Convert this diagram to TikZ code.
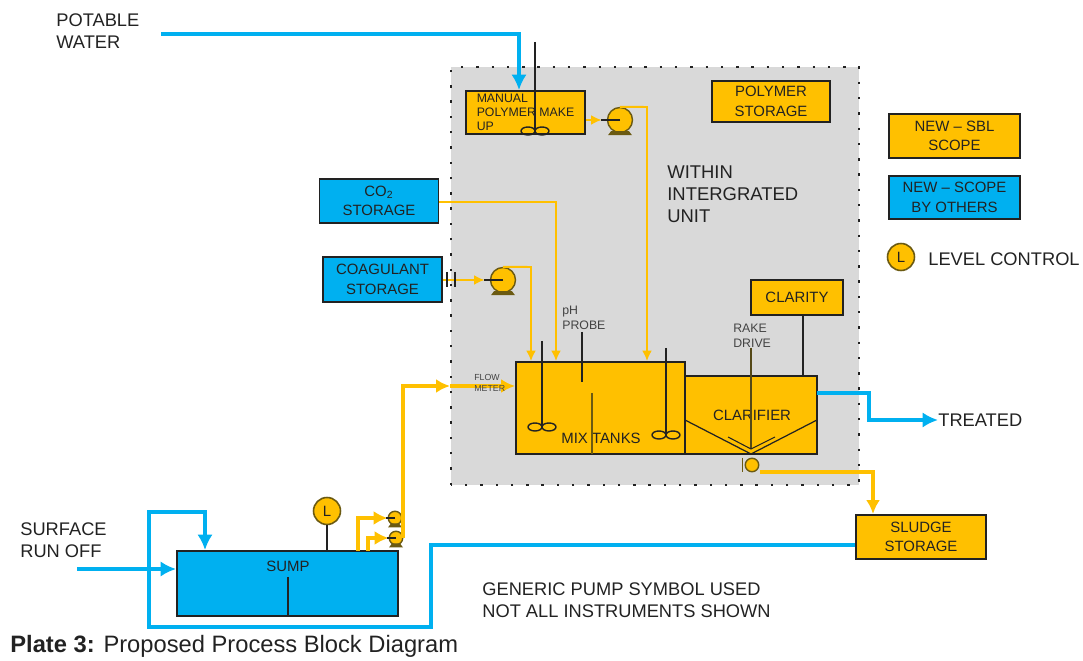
\documentclass[tikz,border=0pt]{standalone}
\usepackage{fontspec}
\setmainfont{Liberation Sans}
\usepackage{xcolor}
\usetikzlibrary{positioning,arrows.meta,calc}
\definecolor{sbl}{HTML}{FFC000}
\definecolor{others}{HTML}{00B0F0}
\definecolor{unit}{HTML}{D9D9D9}
\definecolor{ink}{HTML}{222222}
\definecolor{footing}{HTML}{6B5A12}
\tikzset{
  stylebox/.style={draw=ink, line width=1.1pt, inner sep=0pt, align=center, text=ink,
    font=\fontsize{8.5}{11.2}\selectfont},
  sblbox/.style={stylebox, fill=sbl},
  otherbox/.style={stylebox, fill=others},
  label/.style={inner sep=0pt, align=left, anchor=west, text=ink,
    font=\fontsize{10.4}{12.6}\selectfont},
  tiny label/.style={inner sep=0pt, align=left, anchor=west, text=ink!85,
    font=\fontsize{7}{8.6}\selectfont},
  bluepipe/.style={others, line width=2pt, -{Latex[length=3.1mm,width=3.1mm]}},
  thinpipe/.style={sbl, line width=1.1pt, -{Latex[length=2.1mm,width=2mm]}},
  thickpipe/.style={sbl, line width=2pt, -{Latex[length=2.8mm,width=2.8mm]}},
  pump/.style={circle, draw=footing, fill=sbl, line width=0.8pt, minimum size=0.5cm, inner sep=0pt},
  smallpump/.style={pump, minimum size=0.27cm},
  gauge/.style={circle, draw=footing, fill=sbl, line width=0.9pt, minimum size=0.54cm, inner sep=0pt,
    text=ink, font=\fontsize{8.5}{9}\selectfont},
  stem/.style={ink, line width=0.9pt},
  blade/.style={ink, line width=0.8pt},
}
\begin{document}
\begin{tikzpicture}[x=0.02cm, y=-0.02cm, >=Latex]
  \useasboundingbox (0,0) rectangle (1083,661);
  \fill[unit] (451,67) rectangle (859,485);
  \draw[ink, line width=1.2pt, dash pattern=on 1.4pt off 7.3pt] (451,485) -- (451,67) -- (859,67) -- (859,485) -- cycle;

  \node[sblbox, minimum width=2.38cm, minimum height=0.86cm, font=\fontsize{7}{8}\selectfont, align=left] (manual) at (525.5,112.5) {MANUAL\\POLYMER MAKE\\UP};
  \node[sblbox, minimum width=2.36cm, minimum height=0.82cm] (polymer) at (771,101.5) {POLYMER\\STORAGE};
  \node[sblbox, minimum width=2.62cm, minimum height=0.88cm] (newsbl) at (954.5,136) {NEW -- SBL\\SCOPE};
  \node[otherbox, minimum width=2.62cm, minimum height=0.86cm] (newothers) at (954.5,197.5) {NEW -- SCOPE\\BY OTHERS};
  \node[otherbox, minimum width=2.38cm, minimum height=0.88cm] (co2) at (379,201) {CO\textsubscript{2}\\STORAGE};
  \node[otherbox, minimum width=2.38cm, minimum height=0.9cm] (coagulant) at (382.5,279.5) {COAGULANT\\STORAGE};
  \node[sblbox, minimum width=1.84cm, minimum height=0.7cm] (clarity) at (797,297.5) {CLARITY};
  \node[sblbox, minimum width=3.38cm, minimum height=1.84cm] (mixtanks) at (600.5,408) {};
  \node[sblbox, minimum width=2.64cm, minimum height=1.56cm] (clarifier) at (751,415) {};
  \node[otherbox, minimum width=4.42cm, minimum height=1.3cm] (sump) at (287.5,583.5) {};
  \node[sblbox, minimum width=2.6cm, minimum height=0.88cm] (sludge) at (921,537) {SLUDGE\\STORAGE};

  \node[stylebox, draw=none] (mixlabel) at (601,438) {MIX TANKS};
  \node[stylebox, draw=none] (clarifierlabel) at (752,415) {CLARIFIER};
  \node[stylebox, draw=none] (sumplabel) at (288,566) {SUMP};

  \node[label] (potable) at (56,31) {POTABLE\\WATER};
  \node[label] (surface) at (20,540) {SURFACE\\RUN OFF};
  \node[label, font=\fontsize{10.5}{12.5}\selectfont] (within) at (667,194) {WITHIN\\INTERGRATED\\UNIT};
  \node[label] (treated) at (938,420) {TREATED};
  \node[label] (level) at (928,259) {LEVEL CONTROL};
  \node[label] (generic) at (482,600.5) {GENERIC PUMP SYMBOL USED\\NOT ALL INSTRUMENTS SHOWN};
  \node[label, font=\fontsize{13.5}{15}\selectfont] (plate) at (10,646) {\textbf{Plate 3:} Proposed Process Block Diagram};
  \node[tiny label] (phprobe) at (562,317.5) {pH\\PROBE};
  \node[tiny label] (rake) at (733,336) {RAKE\\DRIVE};

  \node[pump] (polypump) at (620,120) {};
  \node[pump] (coagpump) at (503,280) {};
  \node[smallpump] (sumpa) at (395,518) {};
  \node[smallpump] (sumpb) at (396,538) {};
  \node[smallpump] (sludgepump) at (752,465) {};
  \node[gauge] (sumplevel) at (327,511) {L};
  \node[gauge] (legendlevel) at (901,257) {L};

  \foreach \pumpname/\wide in {polypump/12, coagpump/12, sumpa/7, sumpb/7} {
    \fill[footing] ($(\pumpname.south)+(-\wide+3,-2)$) -- ($(\pumpname.south)+(\wide-3,-2)$) -- ($(\pumpname.south)+(\wide,2)$) -- ($(\pumpname.south)+(-\wide,2)$) -- cycle;
  }
  \draw[footing, line width=1pt] ($(sludgepump.west)+(-2,-7)$) -- ($(sludgepump.west)+(-2,7)$);

  \coordinate (potableend) at (161,34);
  \coordinate (potablebend) at (519,34);
  \coordinate (runoffend) at (77,569);
  \coordinate (returnbend) at (431,545);
  \coordinate (returnlow) at (431,627);
  \coordinate (returnleft) at (149,627);
  \coordinate (returntop) at (149,512);
  \coordinate (returndrop) at (205,512);
  \coordinate (clarifierout) at (817,393);
  \coordinate (treatedbend) at (869,393);
  \coordinate (treatedlow) at (869,420);
  \coordinate (co2drop) at (556,202);
  \coordinate (polydrop) at (647,107);
  \coordinate (coagdrop) at (531,267);
  \coordinate (flowup) at (403,538);
  \coordinate (flowbend) at (403,386);
  \coordinate (flowmid) at (450,386);
  \coordinate (sumpouta) at (358,551);
  \coordinate (sumpoutb) at (368,551);
  \coordinate (sludgeout) at (760,472);
  \coordinate (sludgebend) at (873,472);
  \coordinate (sumpbaffle) at (288,577);
  \coordinate (claritytap) at (803,340);

  \draw[bluepipe] (potableend) -- (potablebend) -- (potablebend |- manual.north);
  \draw[bluepipe] (runoffend) -- (runoffend -| sump.west);
  \draw[bluepipe] (returnbend -| sludge.west) -- (returnbend) -- (returnlow) -- (returnleft) -- (returntop) -- (returndrop) -- (returndrop |- sump.north);
  \draw[bluepipe] (clarifierout) -- (treatedbend) -- (treatedlow) -- (treated.west);

  \draw[thinpipe, shorten >=3pt] (manual.east |- polypump.west) -- (polypump.west);
  \draw[thinpipe] (polypump.north) -- (polydrop) -- (polydrop |- mixtanks.north);
  \draw[thinpipe] (co2.east |- co2drop) -- (co2drop) -- (co2drop |- mixtanks.north);
  \draw[thinpipe, shorten >=3pt] (coagulant.east |- coagpump.west) -- (coagpump.west);
  \draw[thinpipe] (coagpump.north) -- (coagdrop) -- (coagdrop |- mixtanks.north);
  \draw[thickpipe] (sumpouta) -- (sumpouta |- sumpa.west) -- (sumpa.west);
  \draw[thickpipe] (sumpoutb) -- (sumpoutb |- sumpb.west) -- (sumpb.west);
  \draw[thickpipe] (flowup) -- (flowbend) -- (flowmid);
  \draw[thickpipe] (flowmid) -- (flowmid -| mixtanks.west);
  \draw[thickpipe] (sludgeout) -- (sludgebend) -- (sludgebend |- sludge.north);
  \node[tiny label, font=\fontsize{5}{6.2}\selectfont] (flowmeter) at (474,382.5) {FLOW\\METER};

  \draw[stem, line width=1.1pt] (447,272) -- (447,287);
  \draw[stem, line width=1.1pt] (455,272) -- (455,287);

  \foreach \pumpname/\reach in {polypump/19, coagpump/19, sumpa/9, sumpb/9} {
    \draw[stem, line width=0.6pt] (\pumpname.center) -- ++(-\reach,0);
  }
  \draw[stem] (sumplevel.south) -- (sumplevel.south |- sump.north);
  \draw[stem] (sumpbaffle) -- (sumpbaffle |- sump.south);
  \draw[stem] (claritytap |- clarity.south) -- (claritytap |- clarifier.north);
  \draw[stem] (582,332) -- (582,382);
  \draw[footing, line width=1pt] (592,393) -- (592,454);
  \draw[footing!70!ink, line width=0.9pt] (751,348) -- (751,449);
  \draw[stem, line width=0.7pt] (685,420) -- (751,454) -- (817,420);
  \draw[stem, line width=0.6pt] (728,437) -- (751,449) -- (775,437);

  \foreach \shaftx/\shafttop/\shaftend in {535/42/131, 542/341/427, 666/348/435} {
    \draw[stem] (\shaftx,\shafttop) -- (\shaftx,\shaftend);
    \draw[blade] (\shaftx-7,\shaftend) ellipse (0.14cm and 0.08cm);
    \draw[blade] (\shaftx+7,\shaftend) ellipse (0.14cm and 0.08cm);
  }
\end{tikzpicture}
\end{document}
